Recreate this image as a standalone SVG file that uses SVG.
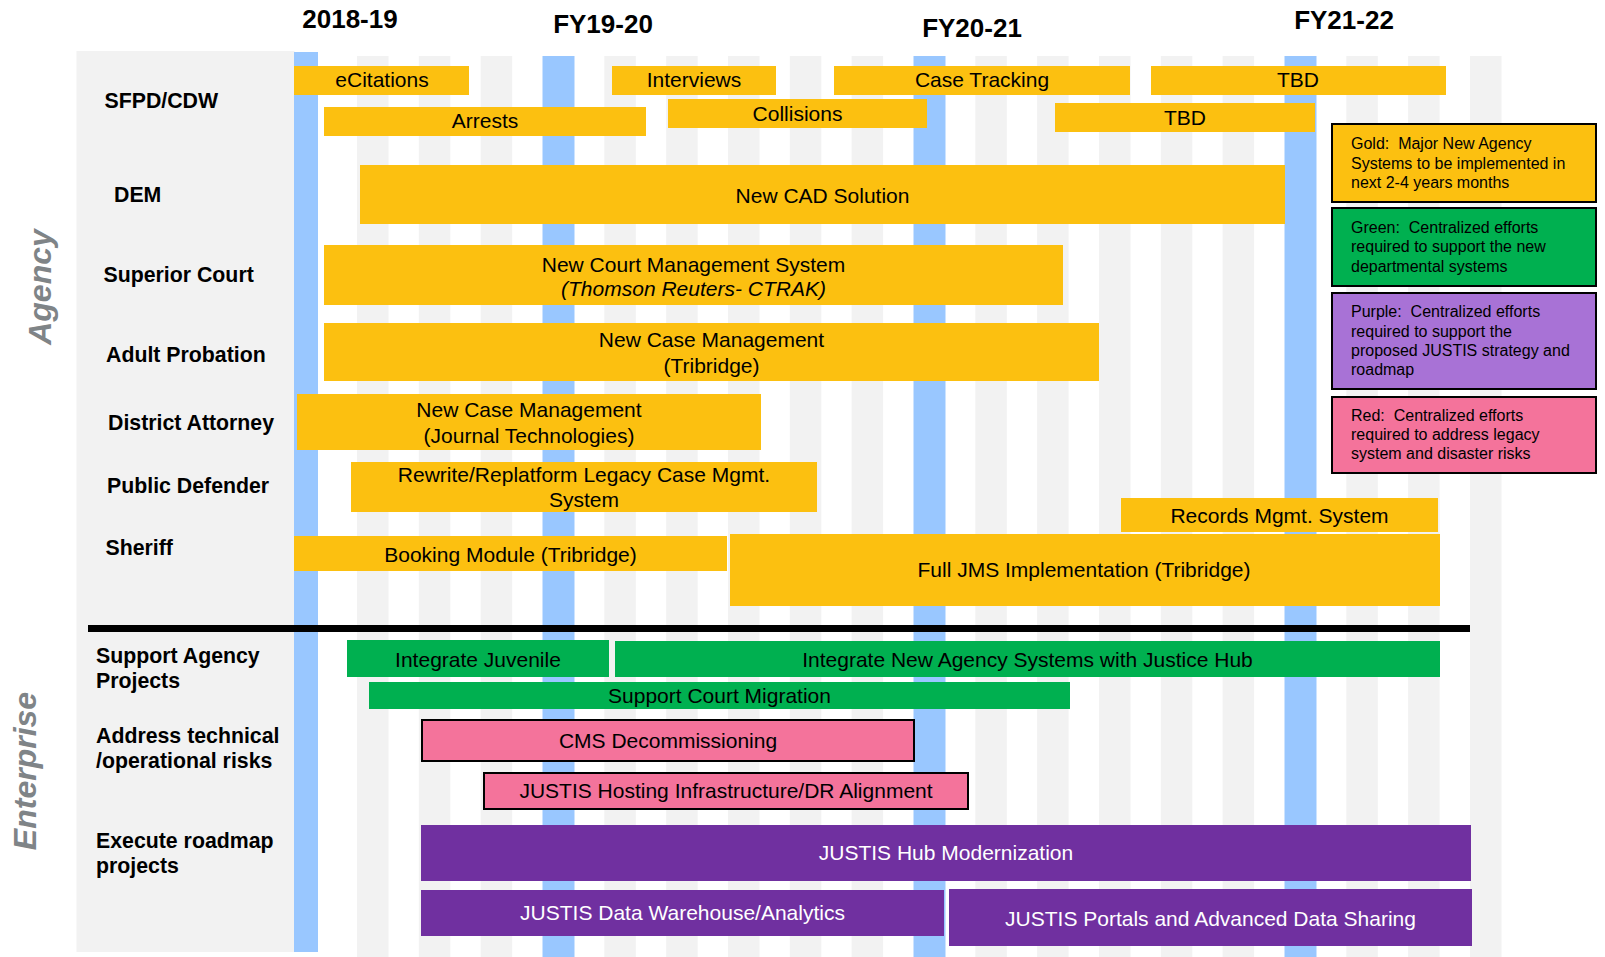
<svg xmlns="http://www.w3.org/2000/svg" width="1605" height="957" viewBox="0 0 1605 957">
<style>
.bg{fill:#ffffff}
.panel{fill:#f2f2f2}
.gs{fill:#f2f2f2}
.bs{fill:#99c7ff}
.gold{fill:#fcc010}
.green{fill:#00b050}
.purple{fill:#7030a0}
.pink{fill:#f4739b;stroke:#000;stroke-width:2}
.lg{stroke:#000;stroke-width:2}
.hdr{font-family:"Liberation Sans",Arial,sans-serif;font-weight:bold;font-size:26px;fill:#000;text-anchor:middle}
.row{font-family:"Liberation Sans",Arial,sans-serif;font-weight:bold;font-size:21.3px;fill:#000}
.bar{font-family:"Liberation Sans",Arial,sans-serif;font-size:21px;fill:#000;text-anchor:middle}
.wbar{font-family:"Liberation Sans",Arial,sans-serif;font-size:21px;fill:#fff;text-anchor:middle}
.leg{font-family:"Liberation Sans",Arial,sans-serif;font-size:16px;fill:#000;white-space:pre}
.side{font-family:"Liberation Sans",Arial,sans-serif;font-weight:bold;font-style:italic;font-size:32px;fill:#7f8487;text-anchor:middle}
</style>
<rect class="bg" x="0" y="0" width="1605" height="957"/>
<g id="grid">
<rect class="panel" x="76.5" y="51" width="218" height="901"/>
<rect class="gs" x="357" y="56" width="31.5" height="901"/>
<rect class="gs" x="418.8" y="56" width="31.5" height="901"/>
<rect class="gs" x="480.7" y="56" width="31.5" height="901"/>
<rect class="gs" x="604.3" y="56" width="31.5" height="901"/>
<rect class="gs" x="666.2" y="56" width="31.5" height="901"/>
<rect class="gs" x="728" y="56" width="31.5" height="901"/>
<rect class="gs" x="789.8" y="56" width="31.5" height="901"/>
<rect class="gs" x="851.6" y="56" width="31.5" height="901"/>
<rect class="gs" x="975.3" y="56" width="31.5" height="901"/>
<rect class="gs" x="1037.1" y="56" width="31.5" height="901"/>
<rect class="gs" x="1099" y="56" width="31.5" height="901"/>
<rect class="gs" x="1160.8" y="56" width="31.5" height="901"/>
<rect class="gs" x="1222.6" y="56" width="31.5" height="901"/>
<rect class="gs" x="1346.3" y="56" width="31.5" height="901"/>
<rect class="gs" x="1408.1" y="56" width="31.5" height="901"/>
<rect class="gs" x="1470" y="56" width="31.5" height="901"/>
<rect class="bs" x="294" y="52" width="24" height="900"/>
<rect class="bs" x="542.5" y="56" width="32" height="901"/>
<rect class="bs" x="913.5" y="56" width="32" height="901"/>
<rect class="bs" x="1284.5" y="56" width="32" height="901"/>
</g>
<g id="headers">
<text class="hdr" x="350" y="28">2018-19</text>
<text class="hdr" x="603" y="33">FY19-20</text>
<text class="hdr" x="972" y="37">FY20-21</text>
<text class="hdr" x="1344" y="29">FY21-22</text>
</g>
<g id="side-labels">
<text class="side" transform="translate(51,287) rotate(-90)">Agency</text>
<text class="side" transform="translate(36,771) rotate(-90)">Enterprise</text>
</g>
<g id="row-labels">
<text class="row" x="104.5" y="108">SFPD/CDW</text>
<text class="row" x="114" y="202">DEM</text>
<text class="row" x="103.5" y="282">Superior Court</text>
<text class="row" x="106" y="362">Adult Probation</text>
<text class="row" x="108" y="430">District Attorney</text>
<text class="row" x="107" y="493">Public Defender</text>
<text class="row" x="105.5" y="555">Sheriff</text>
<text class="row" x="96" y="663">Support Agency</text>
<text class="row" x="96" y="688">Projects</text>
<text class="row" x="96" y="743">Address technical</text>
<text class="row" x="96" y="768">/operational risks</text>
<text class="row" x="96" y="848">Execute roadmap</text>
<text class="row" x="96" y="873">projects</text>
</g>
<g id="divider">
<rect x="88" y="625" width="1382" height="7" fill="#000"/>
</g>
<g id="connectors"/>
<g id="ecitations"><rect class="gold" x="294" y="66" width="175" height="29"/><text class="bar" x="382" y="87">eCitations</text></g>
<g id="interviews"><rect class="gold" x="612" y="66" width="164" height="29"/><text class="bar" x="694" y="87">Interviews</text></g>
<g id="case-tracking"><rect class="gold" x="834" y="66" width="296" height="29"/><text class="bar" x="982" y="87">Case Tracking</text></g>
<g id="tbd-1"><rect class="gold" x="1151" y="66" width="295" height="29"/><text class="bar" x="1298" y="87">TBD</text></g>
<g id="arrests"><rect class="gold" x="324" y="107" width="322" height="29"/><text class="bar" x="485" y="128">Arrests</text></g>
<g id="collisions"><rect class="gold" x="668" y="99" width="259" height="29"/><text class="bar" x="797.5" y="121">Collisions</text></g>
<g id="tbd-2"><rect class="gold" x="1055" y="103" width="260" height="29"/><text class="bar" x="1185" y="125">TBD</text></g>
<g id="new-cad"><rect class="gold" x="360" y="165" width="925" height="59"/><text class="bar" x="822.5" y="203">New CAD Solution</text></g>
<g id="court-mgmt"><rect class="gold" x="324" y="245" width="739" height="60"/><text class="bar" x="693.5" y="272">New Court Management System</text><text class="bar" x="693.5" y="296" font-style="italic">(Thomson Reuters- CTRAK)</text></g>
<g id="probation-cms"><rect class="gold" x="324" y="323" width="775" height="58"/><text class="bar" x="711.5" y="347">New Case Management</text><text class="bar" x="711.5" y="373">(Tribridge)</text></g>
<g id="da-cms"><rect class="gold" x="297" y="394" width="464" height="56"/><text class="bar" x="529" y="417">New Case Management</text><text class="bar" x="529" y="443">(Journal Technologies)</text></g>
<g id="pd-rewrite"><rect class="gold" x="351" y="462" width="466" height="50"/><text class="bar" x="584" y="482">Rewrite/Replatform Legacy Case Mgmt.</text><text class="bar" x="584" y="507">System</text></g>
<g id="records-mgmt"><rect class="gold" x="1121" y="498" width="317" height="34"/><text class="bar" x="1279.5" y="523">Records Mgmt. System</text></g>
<g id="booking-module"><rect class="gold" x="294" y="536" width="433" height="35"/><text class="bar" x="510.5" y="562">Booking Module (Tribridge)</text></g>
<g id="full-jms"><rect class="gold" x="730" y="534" width="710" height="72"/><text class="bar" x="1084" y="577">Full JMS Implementation (Tribridge)</text></g>
<g id="integrate-juvenile"><rect class="green" x="347" y="640" width="262" height="37"/><text class="bar" x="478" y="667">Integrate Juvenile</text></g>
<g id="integrate-new"><rect class="green" x="615" y="641" width="825" height="36"/><text class="bar" x="1027.5" y="667">Integrate New Agency Systems with Justice Hub</text></g>
<g id="court-migration"><rect class="green" x="369" y="682" width="701" height="27"/><text class="bar" x="719.5" y="703">Support Court Migration</text></g>
<g id="cms-decom"><rect class="pink" x="422" y="720" width="492" height="41"/><text class="bar" x="668" y="748">CMS Decommissioning</text></g>
<g id="justis-hosting"><rect class="pink" x="484" y="773" width="484" height="36"/><text class="bar" x="726" y="798">JUSTIS Hosting Infrastructure/DR Alignment</text></g>
<g id="hub-modernization"><rect class="purple" x="421" y="825" width="1050" height="56"/><text class="wbar" x="946" y="860">JUSTIS Hub Modernization</text></g>
<g id="data-warehouse"><rect class="purple" x="421" y="890" width="523" height="46"/><text class="wbar" x="682.5" y="920">JUSTIS Data Warehouse/Analytics</text></g>
<g id="portals"><rect class="purple" x="949" y="889" width="523" height="57"/><text class="wbar" x="1210.5" y="926">JUSTIS Portals and Advanced Data Sharing</text></g>
<g id="legend-gold"><rect class="lg" x="1332" y="124" width="264" height="78" fill="#fcc010"/><text class="leg" x="1351" y="149" xml:space="preserve">Gold:  Major New Agency</text><text class="leg" x="1351" y="169">Systems to be implemented in</text><text class="leg" x="1351" y="188">next 2-4 years months</text></g>
<g id="legend-green"><rect class="lg" x="1332" y="208" width="264" height="78" fill="#00b050"/><text class="leg" x="1351" y="233" xml:space="preserve">Green:  Centralized efforts</text><text class="leg" x="1351" y="252">required to support the new</text><text class="leg" x="1351" y="272">departmental systems</text></g>
<g id="legend-purple"><rect class="lg" x="1332" y="293" width="264" height="96" fill="#a872d6"/><text class="leg" x="1351" y="317" xml:space="preserve">Purple:  Centralized efforts</text><text class="leg" x="1351" y="337">required to support the</text><text class="leg" x="1351" y="356">proposed JUSTIS strategy and</text><text class="leg" x="1351" y="375">roadmap</text></g>
<g id="legend-red"><rect class="lg" x="1332" y="397" width="264" height="76" fill="#f4739b"/><text class="leg" x="1351" y="421" xml:space="preserve">Red:  Centralized efforts</text><text class="leg" x="1351" y="440">required to address legacy</text><text class="leg" x="1351" y="459">system and disaster risks</text></g>
</svg>
